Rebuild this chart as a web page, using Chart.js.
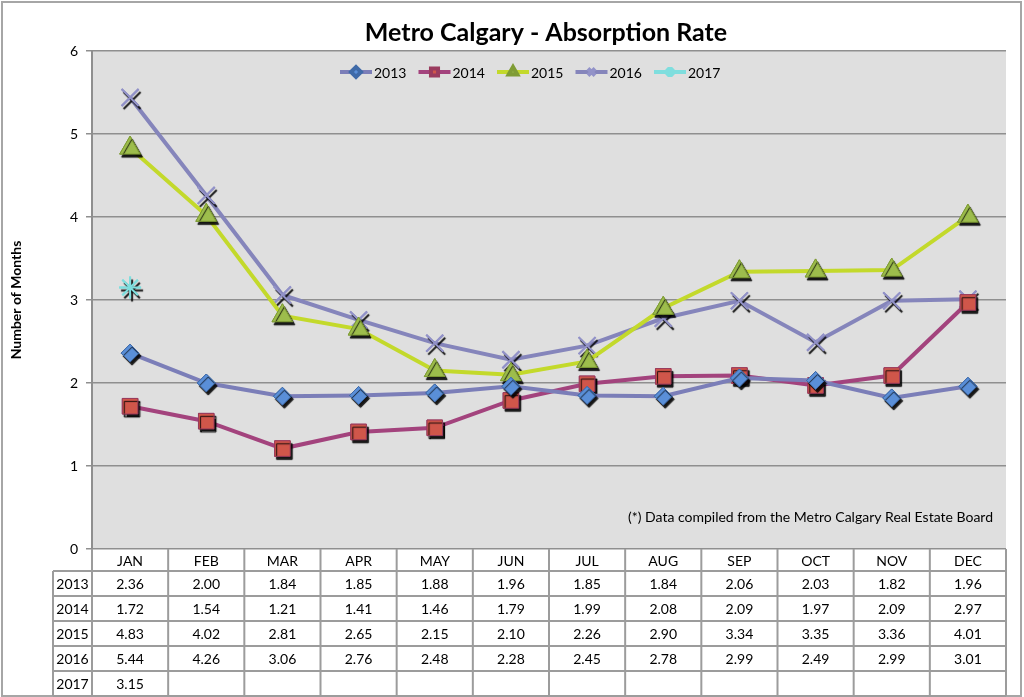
<!DOCTYPE html>
<html>
<head>
<meta charset="utf-8">
<script src="https://cdn.jsdelivr.net/npm/chart.js@4/dist/chart.umd.min.js"></script>
<style>
  html, body { margin: 0; padding: 0; background: #fff; }
  #wrap { width: 1024px; height: 697px; }
</style>
</head>
<body>
<div id="wrap"><canvas id="absChart" width="1024" height="697"></canvas></div>
<script>
/* ── Metro Calgary absorption rate — line chart with data table ── */

const MONTHS = ['JAN', 'FEB', 'MAR', 'APR', 'MAY', 'JUN', 'JUL', 'AUG', 'SEP', 'OCT', 'NOV', 'DEC'];
const YEARS = ['2013', '2014', '2015', '2016', '2017'];
const RATE_2013 = [2.36, 2.00, 1.84, 1.85, 1.88, 1.96, 1.85, 1.84, 2.06, 2.03, 1.82, 1.96];
const RATE_2014 = [1.72, 1.54, 1.21, 1.41, 1.46, 1.79, 1.99, 2.08, 2.09, 1.97, 2.09, 2.97];
const RATE_2015 = [4.83, 4.02, 2.81, 2.65, 2.15, 2.10, 2.26, 2.90, 3.34, 3.35, 3.36, 4.01];
const RATE_2016 = [5.44, 4.26, 3.06, 2.76, 2.48, 2.28, 2.45, 2.78, 2.99, 2.49, 2.99, 3.01];
const RATE_2017 = [3.15, null, null, null, null, null, null, null, null, null, null, null];

const TITLE = 'Metro Calgary - Absorption Rate';
const Y_TITLE = 'Number of Months';
const NOTE = '(*) Data compiled from the Metro Calgary Real Estate Board';
const FONT = "Lato, 'Open Sans', sans-serif";

Chart.defaults.font.family = FONT;
Chart.defaults.color = '#000';

const SERIES = [
  { label: YEARS[0], data: RATE_2013, line: '#7b7eb8', fill: '#5a8fd8', edge: '#3f6aa8', style: 'rectRot', r: 9 },
  { label: YEARS[1], data: RATE_2014, line: '#a3437d', fill: '#d0564a', edge: '#9a3b5e', style: 'rect', r: 11 },
  { label: YEARS[2], data: RATE_2015, line: '#c3d92b', fill: '#9dbd4c', edge: '#7f9c35', style: 'triangle', r: 12 },
  { label: YEARS[3], data: RATE_2016, line: '#8585bb', fill: '#8a8ac2', edge: '#9292c8', style: 'crossRot', r: 12 },
  { label: YEARS[4], data: RATE_2017, line: '#7fdede', fill: '#7fdede', edge: '#7fdede', style: 'star', r: 11 },
];

// gray plot background + outer frame
const backdrop = {
  id: 'backdrop',
  beforeDraw(chart) {
    const { ctx, chartArea: a } = chart;
    ctx.save();
    ctx.fillStyle = '#fff';
    ctx.fillRect(0, 0, chart.width, chart.height);
    ctx.fillStyle = '#dfdfdf';
    ctx.fillRect(a.left, a.top, a.right - a.left, a.bottom - a.top);
    ctx.strokeStyle = '#a6a6a6';
    ctx.lineWidth = 2;
    ctx.strokeRect(2, 2, 1019, 694);
    ctx.restore();
  },
};

// redraw each series' markers with the Excel-like drop shadow
const markerShadow = {
  id: 'markerShadow',
  afterDatasetDraw(chart, args) {
    const { ctx } = chart;
    ctx.save();
    ctx.shadowColor = 'rgba(0,0,0,0.9)';
    ctx.shadowOffsetX = 2;
    ctx.shadowOffsetY = 3;
    ctx.shadowBlur = 1;
    args.meta.data.forEach(p => p.draw(ctx, chart.chartArea));
    ctx.restore();
  },
};

// title, legend, footnote and data table
const decorations = {
  id: 'decorations',
  afterDraw(chart) {
    const { ctx, chartArea: a } = chart;
    const x = chart.scales.x;
    ctx.save();

    ctx.fillStyle = '#000';
    ctx.textAlign = 'center';
    ctx.textBaseline = 'middle';
    ctx.font = `bold 25px ${FONT}`;
    ctx.fillText(TITLE, 546, 33);

    // legend: line + marker + label
    ctx.font = `14px ${FONT}`;
    SERIES.forEach((s, i) => {
      const x0 = 340 + i * 78.5, y0 = 72;
      ctx.strokeStyle = s.line;
      ctx.lineWidth = 4;
      ctx.beginPath();
      ctx.moveTo(x0, y0);
      ctx.lineTo(x0 + 32, y0);
      ctx.stroke();
      ctx.fillStyle = s.fill;
      ctx.strokeStyle = s.edge;
      Chart.helpers.drawPoint(ctx, {
        pointStyle: s.style, radius: 5, rotation: 0, borderWidth: 1,
      }, x0 + 16, y0);
      ctx.fillStyle = '#000';
      ctx.textAlign = 'left';
      ctx.fillText(s.label, x0 + 34, y0 + 1);
    });

    ctx.textAlign = 'right';
    ctx.font = `14px ${FONT}`;
    ctx.fillText(NOTE, 993, 517);

    // data table
    const colW = x.getPixelForValue(1) - x.getPixelForValue(0);
    const headTop = a.bottom, headBot = a.bottom + 22, rowH = 25;
    const labelLeft = 53;
    const tableBot = headBot + rowH * YEARS.length;
    ctx.strokeStyle = '#9c9c9c';
    ctx.lineWidth = 2;
    ctx.beginPath();
    for (let i = 0; i <= MONTHS.length; i++) {
      const cx = a.left + i * colW;
      ctx.moveTo(cx, headTop);
      ctx.lineTo(cx, tableBot);
    }
    ctx.moveTo(labelLeft, headBot);
    ctx.lineTo(labelLeft, tableBot);
    for (let r = 0; r <= YEARS.length; r++) {
      const ry = headBot + r * rowH;
      ctx.moveTo(labelLeft, ry);
      ctx.lineTo(a.right, ry);
    }
    ctx.stroke();

    ctx.fillStyle = '#000';
    ctx.textAlign = 'center';
    ctx.font = `14px ${FONT}`;
    MONTHS.forEach((m, i) => ctx.fillText(m, x.getPixelForValue(i), (headTop + headBot) / 2 + 1));
    SERIES.forEach((s, r) => {
      const cy = headBot + r * rowH + rowH / 2 + 1;
      ctx.fillText(s.label, (labelLeft + a.left) / 2, cy);
      s.data.forEach((v, i) => {
        if (v !== null) ctx.fillText(v.toFixed(2), x.getPixelForValue(i), cy);
      });
    });
    ctx.restore();
  },
};

new Chart(document.getElementById('absChart'), {
  type: 'line',
  data: {
    labels: MONTHS,
    datasets: SERIES.map(s => ({
      label: s.label,
      data: s.data,
      borderColor: s.line,
      borderWidth: 4,
      tension: 0,
      pointStyle: s.style,
      pointRadius: s.r,
      pointBackgroundColor: s.fill,
      pointBorderColor: s.edge,
      pointBorderWidth: s.style === 'crossRot' || s.style === 'star' ? 2 : 1,
    })),
  },
  options: {
    responsive: false,
    devicePixelRatio: 1,
    animation: false,
    layout: { padding: { left: 2, top: 51, right: 18, bottom: 148 } },
    plugins: { legend: { display: false }, tooltip: { enabled: false } },
    scales: {
      x: { display: false, offset: true },
      y: {
        min: 0, max: 6,
        afterFit: scale => { scale.width = 90; },
        ticks: { stepSize: 1, padding: 8, font: { size: 14 }, color: '#000' },
        grid: { color: '#8f8f8f', lineWidth: 1.5, tickLength: 6 },
        border: { color: '#8f8f8f', width: 2 },
        title: {
          display: true, text: Y_TITLE,
          font: { size: 14, weight: 'bold' }, color: '#000',
          padding: { top: 6, bottom: 0 },
        },
      },
    },
  },
  plugins: [backdrop, markerShadow, decorations],
});
</script>
</body>
</html>
